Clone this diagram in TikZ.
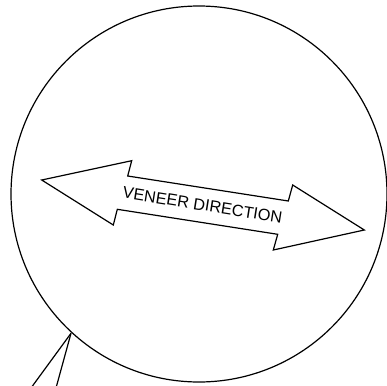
\documentclass[tikz,border=0pt]{standalone}
\usepackage{fontspec}
\setmainfont{Liberation Sans}
\begin{document}
\begin{tikzpicture}[x=1pt,y=-1pt,line width=1.2pt,line join=miter,
  outline/.style={draw=black},
  labeltext/.style={font=\fontsize{16.3}{19}\selectfont,inner sep=0pt}]
\useasboundingbox (0,0) rectangle (387,385);
\node[outline,circle,minimum size=376pt,inner sep=0pt,line width=1.2pt] (lens) at (199,194) {};
% double arrow
\draw[outline,fill=white] (41.7,180) -- (131.7,160.7) -- (127.7,176) -- (288.3,201)
  -- (292.7,185) -- (364.3,230) -- (273.3,250) -- (277.7,234.3) -- (117.3,209.3)
  -- (113.3,225) -- cycle;
\node[labeltext,rotate=-9] (lbl) at (202.5,205) {VENEER DIRECTION};
% pointer lines
\coordinate (apex) at (71,333.3);
\coordinate (e1) at (31,388);
\coordinate (e2) at (56,388);
\draw[outline] (apex) -- (e1);
\draw[outline] (apex) -- (e2);
\end{tikzpicture}
\end{document}
